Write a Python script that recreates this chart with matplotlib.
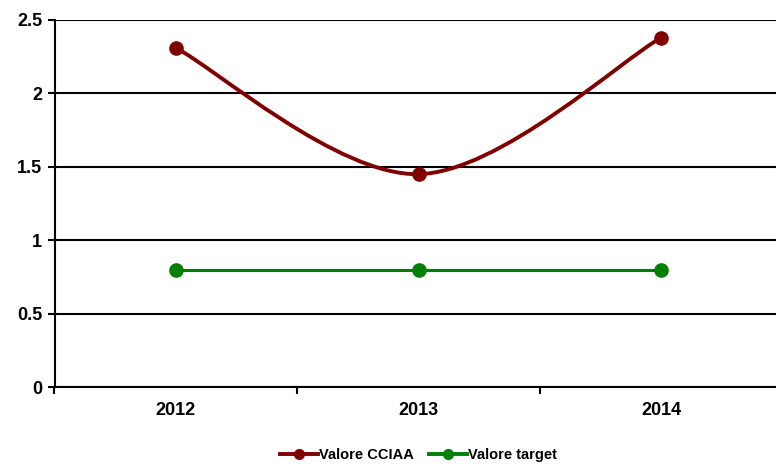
import numpy as np
import matplotlib
matplotlib.use("Agg")
import matplotlib.pyplot as plt
from matplotlib.path import Path
from matplotlib.patches import PathPatch
from matplotlib.lines import Line2D

years = ["2012", "2013", "2014"]
valore_cciaa = [2.31, 1.45, 2.38]
valore_target = [0.8, 0.8, 0.8]

RED = "#800000"
GREEN = "#008000"

plt.rcParams["font.family"] = ["Liberation Sans", "DejaVu Sans"]
plt.rcParams["font.weight"] = "bold"


def smooth_path(xs, ys):
    # Excel-like smoothed line: cubic bezier segments (catmull-rom tangents)
    pts = np.column_stack([xs, ys]).astype(float)
    n = len(pts)
    verts = [pts[0]]
    codes = [Path.MOVETO]
    for i in range(n - 1):
        p0 = pts[i - 1] if i > 0 else pts[i]
        p1 = pts[i]
        p2 = pts[i + 1]
        p3 = pts[i + 2] if i + 2 < n else pts[i + 1]
        c1 = p1 + (p2 - p0) / 6.0
        c2 = p2 - (p3 - p1) / 6.0
        verts += [c1, c2, p2]
        codes += [Path.CURVE4] * 3
    return Path(verts, codes)


fig = plt.figure(figsize=(7.76, 4.66), dpi=100)
ax = fig.add_axes([54.5 / 776, 79 / 466, 728 / 776, 367 / 466])

x = np.arange(len(years))

ax.add_patch(PathPatch(smooth_path(x, valore_cciaa), facecolor="none",
                       edgecolor=RED, lw=2.8, zorder=3))
ax.plot(x, valore_cciaa, ls="none", marker="o", ms=9.5, color=RED, zorder=4)
ax.plot(x, valore_target, color=GREEN, lw=2.2, marker="o", ms=9.5, zorder=4)

ax.set_xlim(-0.5, 2.5)
ax.set_ylim(0, 2.5)
ax.set_yticks(np.arange(0, 2.51, 0.5))
ax.set_yticklabels(["0", "0.5", "1", "1.5", "2", "2.5"])
ax.yaxis.grid(True, color="black", lw=1.5)
ax.set_axisbelow(True)

ax.set_xticks([-0.5, 0.5, 1.5, 2.5])
ax.set_xticklabels([])
ax.set_xticks(x, minor=True)
ax.set_xticklabels(years, minor=True)
ax.tick_params(axis="x", which="minor", length=0, pad=11, labelsize=13)
ax.tick_params(axis="x", which="major", length=5, width=1.5, direction="out")
ax.tick_params(axis="y", length=5, width=1.5, direction="out", labelsize=13, pad=4)

for s in ["top", "right"]:
    ax.spines[s].set_visible(False)
for s in ["left", "bottom"]:
    ax.spines[s].set_linewidth(1.5)

handles = [
    Line2D([], [], color=RED, lw=2.8, marker="o", ms=7),
    Line2D([], [], color=GREEN, lw=2.8, marker="o", ms=7),
]
ax.legend(handles, ["Valore CCIAA", "Valore target"], loc="center",
          bbox_to_anchor=(0.5, -0.185), ncol=2, frameon=False, fontsize=10.5,
          handlelength=2.6, handletextpad=0.1, columnspacing=1.0)

fig.savefig("out.png", dpi=100)
